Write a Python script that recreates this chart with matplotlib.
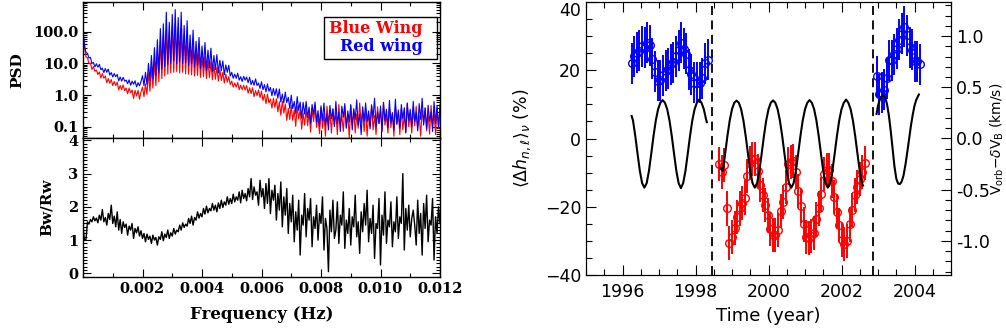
import numpy as np
import matplotlib
matplotlib.use("Agg")
import matplotlib.pyplot as plt
from matplotlib.ticker import FixedLocator, MultipleLocator, LogLocator, NullFormatter, FormatStrFormatter
from matplotlib.patches import Rectangle

# ---------------- Left panels: spectra ----------------
freq_step_hz = 0.00005  # uniform frequency grid of the spectra

# log10 PSD of the "Red wing" spectrum (drawn in blue)
red_wing_log10_psd = [
    2.00, 1.60, 1.34, 1.32, 1.17, 1.19, 1.00, 1.03, 0.89, 0.99,
    0.88, 0.97, 0.80, 0.85, 0.71, 0.84, 0.72, 0.82, 0.63, 0.71,
    0.57, 0.68, 0.58, 0.65, 0.45, 0.57, 0.44, 0.56, 0.44, 0.47,
    0.36, 0.48, 0.31, 0.44, 0.34, 0.45, 0.26, 0.39, 0.29, 0.43,
    0.61, 0.30, 0.72, 0.33, 1.00, 0.45, 1.25, 0.52, 1.50, 0.62,
    1.75, 0.70, 2.10, 0.82, 2.25, 0.90, 2.62, 0.97, 2.30, 1.00,
    2.55, 1.08, 2.70, 0.98, 2.45, 1.06, 2.62, 0.99, 2.20, 1.02,
    2.35, 0.93, 1.90, 0.99, 2.05, 0.88, 1.70, 0.95, 1.82, 0.84,
    1.55, 0.88, 1.66, 0.78, 1.42, 0.86, 1.48, 0.74, 1.25, 0.80,
    1.28, 0.70, 1.10, 0.77, 1.08, 0.64, 0.95, 0.72, 0.94, 0.60,
    0.72, 0.53, 0.66, 0.53, 0.69, 0.47, 0.58, 0.43, 0.59, 0.47,
    0.57, 0.39, 0.56, 0.33, 0.46, 0.31, 0.51, 0.30, 0.38, 0.21,
    0.42, 0.17, 0.33, 0.10, 0.35, 0.12, 0.24, -0.02, 0.21, -0.01,
    0.20, -0.10, 0.19, -0.22, 0.03, -0.25, 0.09, -0.24, -0.07, -0.42,
    0.00, -0.43, -0.20, -0.58, -0.05, -0.48, -0.22, -0.73, -0.23, -0.60,
    -0.20, -0.71, -0.38, -0.89, -0.30, -0.61, -0.22, -0.86, -0.49, -1.00,
    -0.34, -0.80, -0.25, -0.95, -0.60, -1.10, -0.33, -0.75, -0.45, -1.00,
    -0.20, -0.90, -0.55, -1.15, -0.35, -0.70, -0.27, -1.05, -0.50, -0.85,
    -0.30, -1.10, -0.43, -0.77, -0.15, -0.95, -0.60, -1.25, -0.37, -0.83,
    -0.25, -0.85, -0.50, -1.07, -0.33, -0.73, -0.10, -1.00, -0.53, -0.90,
    -0.35, -1.15, -0.23, -0.80, -0.45, -1.03, -0.17, -0.87, -0.57, -1.10,
    -0.13, -0.93, -0.47, -1.05, -0.30, -0.75, -0.40, -1.20, -0.25, -0.80,
    -0.45, -1.00, -0.20, -0.85, -0.55, -1.13, -0.27, -0.77, -0.10, -0.95,
    -0.40, -1.07, -0.32, -0.83, -0.53, -1.15, -0.20, -0.90, -0.35, -1.03,
    -0.30,
]

# log10 PSD of the "Blue Wing" spectrum (drawn in red)
blue_wing_log10_psd = [
    1.93, 1.51, 1.20, 1.19, 0.99, 1.01, 0.81, 0.90, 0.75, 0.79,
    0.65, 0.73, 0.54, 0.68, 0.53, 0.60, 0.39, 0.52, 0.37, 0.49,
    0.30, 0.43, 0.30, 0.41, 0.16, 0.30, 0.17, 0.32, 0.14, 0.22,
    0.04, 0.22, 0.07, 0.16, -0.11, 0.15, -0.03, 0.15, -0.13, 0.10,
    0.25, -0.05, 0.35, 0.02, 0.70, 0.12, 0.90, 0.22, 1.10, 0.30,
    1.40, 0.42, 1.70, 0.52, 1.85, 0.60, 2.05, 0.66, 2.00, 0.70,
    2.20, 0.72, 2.25, 0.74, 2.15, 0.70, 2.10, 0.72, 1.90, 0.67,
    1.85, 0.66, 1.65, 0.64, 1.58, 0.60, 1.42, 0.62, 1.40, 0.56,
    1.25, 0.58, 1.22, 0.52, 1.10, 0.55, 1.05, 0.48, 0.95, 0.50,
    0.88, 0.44, 0.80, 0.46, 0.72, 0.38, 0.66, 0.41, 0.58, 0.33,
    0.44, 0.25, 0.38, 0.25, 0.40, 0.17, 0.31, 0.17, 0.31, 0.16,
    0.30, 0.06, 0.23, 0.05, 0.23, -0.05, 0.14, -0.02, 0.16, -0.08,
    0.12, -0.17, 0.02, -0.27, 0.03, -0.25, -0.13, -0.41, -0.10, -0.39,
    -0.12, -0.53, -0.21, -0.64, -0.20, -0.57, -0.28, -0.80, -0.42, -0.77,
    -0.33, -0.80, -0.47, -0.99, -0.35, -0.76, -0.45, -1.08, -0.57, -0.95,
    -0.42, -0.97, -0.54, -1.17, -0.44, -0.84, -0.32, -1.02, -0.67, -1.22,
    -0.40, -1.05, -0.60, -1.30, -0.35, -0.85, -0.50, -1.20, -0.43, -0.95,
    -0.55, -1.25, -0.30, -0.90, -0.65, -1.15, -0.37, -1.00, -0.60, -1.35,
    -0.33, -0.95, -0.47, -1.20, -0.60, -1.05, -0.25, -0.87, -0.53, -1.15,
    -0.45, -1.30, -0.57, -1.00, -0.30, -1.10, -0.65, -1.25, -0.37, -0.90,
    -0.50, -1.15, -0.23, -0.95, -0.63, -1.20, -0.40, -1.03, -0.55, -1.30,
    -0.35, -0.90, -0.53, -1.25, -0.45, -1.10, -0.60, -1.17, -0.27, -1.00,
    -0.57, -1.20, -0.40, -0.97, -0.35, -1.05, -0.65, -1.30, -0.47, -0.87,
    -0.43, -1.13, -0.60, -1.23, -0.33, -0.95, -0.50, -1.25, -0.40, -1.05,
    -0.45,
]

# Bw/Rw ratio
bw_rw_ratio = [
    1.35, 1.00, 1.02, 1.55, 1.48, 1.62, 1.55, 1.70, 1.58, 1.66,
    1.52, 1.75, 1.60, 1.92, 1.55, 1.68, 1.45, 1.80, 1.62, 2.05,
    1.50, 1.72, 1.40, 1.85, 1.30, 1.62, 1.20, 1.55, 1.38, 1.48,
    1.15, 1.42, 1.30, 1.50, 1.05, 1.35, 1.22, 1.40, 1.12, 1.28,
    1.05, 1.20, 0.95, 1.18, 1.02, 1.12, 0.90, 1.15, 1.00, 1.08,
    0.85, 1.10, 1.02, 1.25, 0.98, 1.18, 1.08, 1.30, 1.05, 1.22,
    1.12, 1.35, 1.18, 1.30, 1.25, 1.45, 1.30, 1.52, 1.38, 1.48,
    1.42, 1.65, 1.50, 1.72, 1.45, 1.68, 1.60, 1.85, 1.66, 1.80,
    1.70, 1.95, 1.78, 2.02, 1.82, 1.95, 1.88, 2.10, 1.90, 2.05,
    1.85, 2.12, 1.95, 2.20, 1.98, 2.15, 2.05, 2.30, 2.08, 2.25,
    2.10, 2.38, 2.15, 2.30, 2.20, 2.45, 2.12, 2.50, 2.25, 2.40,
    2.18, 2.55, 2.30, 2.85, 2.22, 2.60, 2.35, 2.45, 2.05, 2.80,
    2.30, 2.55, 1.95, 2.70, 2.10, 2.85, 1.80, 2.50, 2.20, 2.65,
    1.60, 2.40, 1.90, 2.75, 1.40, 2.30, 1.75, 2.55, 1.20, 2.10,
    1.55, 2.35, 0.95, 1.85, 1.30, 2.20, 0.55, 1.75, 1.45, 2.40,
    1.10, 1.95, 1.60, 2.25, 0.80, 1.70, 1.35, 2.05, 1.00, 1.80,
    1.50, 2.30, 0.70, 1.65, 1.35, 0.05, 1.90, 1.25, 2.20, 1.05,
    1.30, 2.15, 0.90, 1.75, 1.45, 2.45, 0.75, 1.60, 1.20, 1.95,
    0.85, 1.70, 1.40, 2.35, 1.10, 1.55, 0.60, 1.85, 1.25, 2.10,
    1.45, 2.50, 0.95, 1.65, 1.20, 2.05, 0.45, 1.50, 1.35, 2.25,
    0.25, 1.75, 1.15, 2.45, 0.90, 1.60, 1.40, 2.15, 0.80, 1.55,
    1.25, 2.30, 1.05, 1.70, 1.50, 3.00, 0.70, 1.95, 1.30, 2.05,
    1.10, 1.65, 1.90, 1.45, 0.85, 2.20, 1.20, 1.80, 0.55, 2.10,
    1.35, 2.35, 0.95, 1.60, 1.45, 2.25, 0.40, 1.70, 1.20, 2.00,
    1.50,
]

freq_ticks = [0.002, 0.004, 0.006, 0.008, 0.010, 0.012]
freq_tick_labels = ["0.002", "0.004", "0.006", "0.008", "0.010", "0.012"]
psd_ticks = [0.1, 1.0, 10.0, 100.0]
psd_tick_labels = ["0.1", "1.0", "10.0", "100.0"]
ratio_ticks = [0, 1, 2, 3, 4]

# ---------------- Right panel: time series ----------------
blue_time_a = [1996.25, 1996.32, 1996.39, 1996.46, 1996.54, 1996.61, 1996.68, 1996.75,
               1996.82, 1996.89, 1996.97, 1997.04, 1997.11, 1997.18, 1997.25, 1997.32,
               1997.39, 1997.47, 1997.54, 1997.61, 1997.68, 1997.75, 1997.82, 1997.89,
               1997.97, 1998.04, 1998.11, 1998.18, 1998.25, 1998.33]
blue_dh_a = [22.1, 24.1, 25.1, 25.7, 27.0, 26.6, 28.0, 27.3, 23.4, 19.5, 16.9, 17.1,
             18.5, 19.8, 20.5, 21.7, 22.4, 24.1, 25.9, 28.0, 26.3, 24.9, 20.2, 18.8,
             16.3, 16.3, 16.3, 17.6, 22.0, 23.1]

blue_time_b = [2002.96, 2003.03, 2003.10, 2003.17, 2003.24, 2003.30, 2003.37, 2003.45,
               2003.51, 2003.58, 2003.65, 2003.72, 2003.79, 2003.88, 2003.94, 2004.01,
               2004.08, 2004.14]
blue_dh_b = [18.2, 13.0, 13.4, 14.3, 17.6, 22.9, 22.9, 24.7, 26.3, 29.0, 30.7, 32.7,
             30.2, 26.8, 26.0, 22.7, 22.7, 21.8]
blue_err = 6.0

red_time = [1998.65, 1998.72, 1998.79, 1998.86, 1998.93, 1999.00, 1999.07, 1999.14,
            1999.21, 1999.28, 1999.35, 1999.42, 1999.49, 1999.56, 1999.63, 1999.70,
            1999.77, 1999.84, 1999.91, 1999.98, 2000.05, 2000.12, 2000.19, 2000.26,
            2000.33, 2000.40, 2000.47, 2000.54, 2000.61, 2000.68, 2000.75, 2000.82,
            2000.89, 2000.96, 2001.03, 2001.10, 2001.17, 2001.24, 2001.31, 2001.38,
            2001.45, 2001.52, 2001.59, 2001.66, 2001.73, 2001.80, 2001.87, 2001.94,
            2002.01, 2002.08, 2002.15, 2002.22, 2002.29, 2002.36, 2002.43, 2002.50,
            2002.57, 2002.64]
red_dh = [-7.5, -9.8, -7.8, -20.5, -30.7, -28.8, -26.1, -23.0, -20.5, -19.0, -17.3,
          -11.0, -7.1, -5.9, -5.9, -9.5, -13.5, -16.6, -19.5, -22.5, -26.4, -28.3,
          -28.3, -26.9, -21.3, -18.7, -14.2, -7.6, -7.0, -6.6, -9.8, -15.4, -19.7,
          -25.2, -28.8, -29.1, -28.5, -27.8, -23.7, -20.5, -16.4, -10.3, -9.3, -9.3,
          -12.5, -17.1, -21.5, -25.4, -29.8, -30.8, -30.1, -25.2, -21.0, -16.6, -14.2,
          -11.9, -9.8, -7.3]
red_err = 5.0

# V_orb - dV_B (km/s), three continuous pieces
vorb_time_a = [1996.25, 1996.2875, 1996.35, 1996.4125, 1996.475, 1996.5375, 1996.60,
               1996.6625, 1996.725, 1996.7875, 1996.85, 1996.9125, 1996.975, 1997.0375,
               1997.10, 1997.1625, 1997.225, 1997.2875, 1997.35, 1997.4125, 1997.475,
               1997.5375, 1997.60, 1997.6625, 1997.725, 1997.7875, 1997.85, 1997.9125,
               1997.975, 1998.0375, 1998.10, 1998.1625, 1998.225, 1998.2875, 1998.31]
vorb_a = [0.22, 0.176, 0.025, -0.149, -0.316, -0.436, -0.480, -0.436, -0.316, -0.149,
          0.025, 0.176, 0.286, 0.349, 0.375, 0.349, 0.286, 0.176, 0.025, -0.149,
          -0.316, -0.436, -0.485, -0.436, -0.316, -0.149, 0.025, 0.176, 0.286, 0.349,
          0.380, 0.350, 0.290, 0.190, 0.160]

vorb_time_b = [1998.69, 1998.75, 1998.8125, 1998.875, 1998.9375, 1999.0, 1999.0625,
               1999.125, 1999.1875, 1999.25, 1999.3125, 1999.375, 1999.4375, 1999.5,
               1999.5625, 1999.625, 1999.6875, 1999.75, 1999.8125, 1999.875, 1999.9375,
               2000.0, 2000.0625, 2000.125, 2000.1875, 2000.25, 2000.3125, 2000.375,
               2000.4375, 2000.5, 2000.5625, 2000.625, 2000.6875, 2000.75, 2000.8125,
               2000.875, 2000.9375, 2001.0, 2001.0625, 2001.125, 2001.1875, 2001.25,
               2001.3125, 2001.375, 2001.4375, 2001.5, 2001.5625, 2001.625, 2001.6875,
               2001.75, 2001.8125, 2001.875, 2001.9375, 2002.0, 2002.0625, 2002.125,
               2002.1875, 2002.25, 2002.3125, 2002.375, 2002.4375, 2002.5, 2002.5625,
               2002.59]
vorb_b = [-0.29, -0.316, -0.149, 0.025, 0.176, 0.286, 0.349, 0.370, 0.349, 0.286,
          0.176, 0.025, -0.149, -0.316, -0.436, -0.480, -0.436, -0.316, -0.149, 0.025,
          0.176, 0.286, 0.349, 0.372, 0.349, 0.286, 0.176, 0.025, -0.149, -0.316,
          -0.436, -0.480, -0.436, -0.316, -0.149, 0.025, 0.176, 0.286, 0.349, 0.375,
          0.349, 0.286, 0.176, 0.025, -0.149, -0.316, -0.436, -0.480, -0.436, -0.316,
          -0.149, 0.025, 0.176, 0.286, 0.349, 0.380, 0.349, 0.286, 0.176, 0.025,
          -0.149, -0.316, -0.436, -0.460]

vorb_time_c = [2002.96, 2003.00, 2003.05, 2003.10, 2003.15, 2003.20, 2003.25, 2003.30,
               2003.35, 2003.40, 2003.45, 2003.50, 2003.55, 2003.60, 2003.65, 2003.70,
               2003.75, 2003.80, 2003.85, 2003.90, 2003.95, 2004.00, 2004.05, 2004.12]
vorb_c = [0.24, 0.32, 0.38, 0.41, 0.42, 0.40, 0.33, 0.22, 0.07, -0.10, -0.27, -0.39,
          -0.44, -0.445, -0.42, -0.36, -0.26, -0.14, -0.01, 0.12, 0.23, 0.32, 0.38, 0.43]

gap_times = [1998.45, 2002.87]
year_ticks = [1996, 1998, 2000, 2002, 2004]
dh_ticks = [-40, -20, 0, 20, 40]

# ---------------- Figure ----------------
W, H = 1006, 328
fig = plt.figure(figsize=(W / 100, H / 100), dpi=100)

def fx(px):
    return px / W

def fy(py):
    return 1 - py / H

serif = dict(family="DejaVu Serif", weight="bold")
LFS = 10.5

ax1 = fig.add_axes([fx(83), fy(138), fx(440) - fx(83), fy(2) - fy(138)])
ax2 = fig.add_axes([fx(83), fy(277), fx(440) - fx(83), fy(138) - fy(277)], sharex=ax1)

freq = np.arange(len(red_wing_log10_psd)) * freq_step_hz
ax1.plot(freq, 10 ** np.array(blue_wing_log10_psd), color=(1, 0, 0), lw=0.8)
ax1.plot(freq, 10 ** np.array(red_wing_log10_psd), color=(0, 0, 1), lw=0.8)
ax1.set_yscale("log")
ax1.set_ylim(0.044, 870)
ax1.set_xlim(0, 0.012)
ax1.yaxis.set_major_locator(FixedLocator(psd_ticks))
ax1.set_yticklabels(psd_tick_labels)
ax1.yaxis.set_minor_locator(LogLocator(base=10, subs=np.arange(2, 10)))
ax1.yaxis.set_minor_formatter(NullFormatter())
ax1.set_ylabel("PSD", fontsize=11, labelpad=6, **serif)

# legend box
ax1.add_patch(Rectangle((0.675, 0.579), 0.3166, 0.313, transform=ax1.transAxes,
                        fill=False, edgecolor="black", lw=1.0, zorder=5))
ax1.text(0.951, 0.805, "Blue Wing", color=(1, 0, 0), ha="right", va="center",
         transform=ax1.transAxes, fontsize=11.5, **serif)
ax1.text(0.951, 0.672, "Red wing", color=(0, 0, 1), ha="right", va="center",
         transform=ax1.transAxes, fontsize=11.5, **serif)

ax2.plot(freq, bw_rw_ratio, color="black", lw=1.0)
ax2.set_ylim(-0.11, 4.07)
ax2.yaxis.set_major_locator(FixedLocator(ratio_ticks))
ax2.yaxis.set_minor_locator(MultipleLocator(0.1))
ax2.xaxis.set_major_locator(FixedLocator(freq_ticks))
ax2.set_xticklabels(freq_tick_labels)
ax2.xaxis.set_minor_locator(MultipleLocator(0.001))
ax2.set_ylabel("Bw/Rw", fontsize=11, labelpad=10, **serif)
ax2.set_xlabel("Frequency (Hz)", fontsize=12, labelpad=7, **serif)

for ax in (ax1, ax2):
    ax.tick_params(which="both", direction="in", top=True, right=True, width=0.8)
    ax.tick_params(which="major", length=6)
    ax.tick_params(which="minor", length=3)
    for lab in ax.get_xticklabels() + ax.get_yticklabels():
        lab.set_fontfamily("DejaVu Serif")
        lab.set_fontweight("bold")
        lab.set_fontsize(LFS)
    for s in ax.spines.values():
        s.set_linewidth(1.0)
ax1.tick_params(labelbottom=False)

# ---------------- Right panel ----------------
RFS = 12.5
ax3 = fig.add_axes([fx(586), fy(275), fx(951) - fx(586), fy(2) - fy(275)])
ax3.set_xlim(1995, 2005)
ax3.set_ylim(-40, 40)
for gt in gap_times:
    ax3.axvline(gt, color="black", lw=1.3, dashes=(5, 3))

eb_kw = dict(fmt="o", mfc="none", ms=5.5, mew=1.0, elinewidth=1.4, capsize=0)
ax3.errorbar(blue_time_a, blue_dh_a, yerr=blue_err, color=(0, 0, 1), ecolor=(0, 0, 1), **eb_kw)
ax3.errorbar(blue_time_b, blue_dh_b, yerr=blue_err, color=(0, 0, 1), ecolor=(0, 0, 1), **eb_kw)
ax3.errorbar(red_time, red_dh, yerr=red_err, color=(1, 0, 0), ecolor=(1, 0, 0), **eb_kw)

ax3.xaxis.set_major_locator(FixedLocator(year_ticks))
ax3.xaxis.set_minor_locator(MultipleLocator(0.5))
ax3.yaxis.set_major_locator(FixedLocator(dh_ticks))
ax3.yaxis.set_minor_locator(MultipleLocator(5))
ax3.set_xlabel("Time (year)", fontsize=13, labelpad=4)
ax3.set_ylabel(r"$\langle\Delta h_{n,\ell}\rangle_{\nu}$ (%)", fontsize=12.5)
ax3.yaxis.set_label_coords((533 - 586) / 365, 0.5)

ax4 = ax3.twinx()
ax4.set_ylim(-40 / 30, 40 / 30)
ax4.plot(vorb_time_a, vorb_a, color="black", lw=1.5)
ax4.plot(vorb_time_b, vorb_b, color="black", lw=1.5)
ax4.plot(vorb_time_c, vorb_c, color="black", lw=1.5)
ax4.yaxis.set_major_locator(MultipleLocator(0.5))
ax4.yaxis.set_minor_locator(MultipleLocator(0.1))
ax4.yaxis.set_major_formatter(FormatStrFormatter("%.1f"))
ax4.set_ylabel(r"V$_{\rm orb}$$-\delta$V$_{\rm B}$ (km/s)", fontsize=10, rotation=90, va="center")
ax4.yaxis.set_label_coords((997 - 586) / 365, 0.5)

ax3.tick_params(which="both", direction="in", top=True, right=False, width=0.8, labelsize=RFS)
ax3.tick_params(axis="x", which="major", pad=6)
ax3.tick_params(which="major", length=7)
ax3.tick_params(which="minor", length=4)
ax4.tick_params(which="both", direction="in", width=0.8, labelsize=RFS)
ax4.tick_params(which="major", length=7)
ax4.tick_params(which="minor", length=4)

fig.canvas.draw()
for tick in ax3.yaxis.get_major_ticks():
    if abs(tick.get_loc() - 40) < 1e-6:
        tick.label1.set_verticalalignment("top")

fig.savefig("out.png", dpi=100)
